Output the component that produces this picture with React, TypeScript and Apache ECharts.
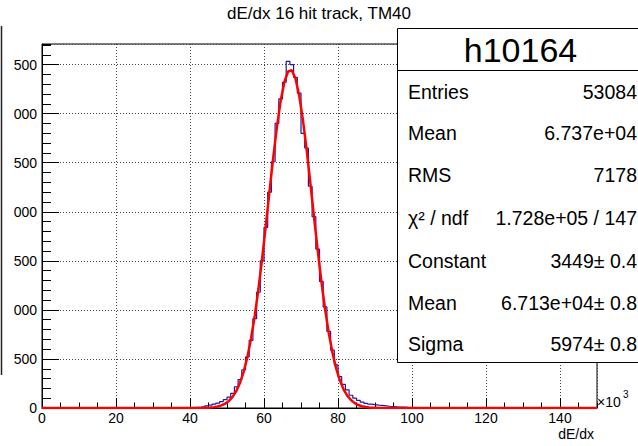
import React, { useEffect, useRef } from 'react';
import * as echarts from 'echarts';

const chartTitle = 'dE/dx 16 hit track, TM40';
const histName = 'h10164';
const xAxisTitle = 'dE/dx';
const xMin = 0;
const xMax = 150;
const yMax = 3710;

// bin counts, 150 bins of width 1 (x10^3), bins 0..149
const histCounts = [
  0, 0, 0, 0, 0, 0, 0, 0, 0, 0,
  0, 0, 0, 0, 0, 0, 0, 0, 0, 0,
  0, 0, 0, 0, 0, 0, 0, 0, 0, 0,
  0, 0, 0, 0, 0, 0, 0, 0, 0, 0,
  3, 6, 8, 14, 22, 30, 40, 50, 65, 85,
  110, 150, 215, 290, 390, 520, 690, 910, 1180, 1500,
  1840, 2200, 2510, 2900, 3150, 3320, 3533, 3500, 3370, 3210,
  2800, 2650, 2260, 1950, 1620, 1290, 1030, 780, 590, 440,
  320, 240, 185, 130, 100, 78, 60, 48, 40, 35,
  30, 26, 22, 18, 15, 12, 10, 8, 6, 5,
  4, 3, 3, 2, 1, 1, 1, 0, 1, 0,
  2, 1, 0, 0, 0, 0, 0, 0, 0, 0,
  0, 0, 0, 0, 0, 0, 0, 0, 0, 0,
  0, 0, 0, 0, 0, 0, 0, 0, 0, 0,
  0, 0, 0, 0, 0, 0, 0, 0, 0, 0,
];

// fitted gaussian curve, sampled
const fitX = [
  0, 38.5, 40.5, 41.5, 42.5, 43.5, 44.5, 45.5, 46.5, 47.5, 48.5, 49.5,
  50.5, 51.5, 52.5, 53.5, 54.5, 55.5, 56.5, 57.5, 58.5, 59.5,
  60.5, 61.5, 62.5, 63.5, 64.5, 65.5, 66.5, 67.5, 68.5, 69.5,
  70.5, 71.5, 72.5, 73.5, 74.5, 75.5, 76.5, 77.5, 78.5, 79.5,
  80.5, 81.5, 82.5, 83.5, 84.5, 85.5, 86.5, 87.5, 88.5, 89.5,
  90.5, 91.5, 92.5, 93.5, 95.5, 150,
];
const fitY = [
  0, 0, 0.2, 0.3, 0.7, 1.4, 2.6, 4.9, 8.9, 15.6, 26.6, 44,
  72, 113, 172, 255, 369, 518, 708, 941, 1215, 1526,
  1863, 2212, 2554, 2868, 3130, 3323, 3430, 3442, 3359, 3188,
  2942, 2640, 2303, 1953, 1611, 1292, 1008, 765, 564, 404,
  282, 191, 126, 81, 50, 30, 18, 10, 5.7, 3.1,
  1.6, 0.8, 0.4, 0.2, 0, 0,
];

const statsLabels = ['Entries', 'Mean', 'RMS', 'χ² / ndf', 'Constant', 'Mean', 'Sigma'];
const statsValues = ['53084', '6.737e+04', '7178', '1.728e+05 / 147', '3449± 0.4', '6.713e+04± 0.8', '5974± 0.8'];

const FONT = '"Liberation Sans", Arial, Helvetica, sans-serif';

export default function App() {
  const ref = useRef<HTMLDivElement>(null);
  useEffect(() => {
    if (!ref.current) return;
    const chart = echarts.init(ref.current, undefined, { renderer: 'svg' });

    const histData: number[][] = histCounts.map((c, i) => [i, c]);
    histData.push([xMax, histCounts[histCounts.length - 1]]);
    const fitData = fitX.map((x, i) => [x, fitY[i]]);

    const rowYs = [91.5, 133, 175, 218, 261, 302.5, 343.5];

    const txt = (text: string, x: number, y: number, size: number, align: string, extra: any = {}) => ({
      type: 'text',
      x,
      y,
      z: 110,
      style: {
        text,
        fill: '#000',
        font: `${size}px ${FONT}`,
        fontSize: size,
        fontFamily: FONT,
        align,
        textAlign: align,
        verticalAlign: 'middle',
        textVerticalAlign: 'middle',
        ...extra,
      },
    });

    const graphics: any[] = [
      txt(chartTitle, 319, 13, 17, 'center'),
      {
        type: 'line',
        z: 100,
        shape: { x1: 1.5, y1: 26, x2: 1.5, y2: 375 },
        style: { stroke: '#222', lineWidth: 1.5 },
      },
      {
        type: 'rect',
        z: 100,
        shape: { x: 397.5, y: 28.5, width: 245, height: 334 },
        style: { fill: '#fff', stroke: '#000', lineWidth: 1 },
      },
      {
        type: 'line',
        z: 101,
        shape: { x1: 397.5, y1: 70.5, x2: 640, y2: 70.5 },
        style: { stroke: '#000', lineWidth: 1 },
      },
      txt(histName, 520.5, 50, 34, 'center'),
      txt('×10', 597, 402, 14, 'left'),
      txt('3', 623, 394, 10, 'left'),
      txt(xAxisTitle, 594, 434, 14, 'right'),
    ];
    statsLabels.forEach((l, i) => {
      graphics.push(txt(l, 408, rowYs[i], 19.5, 'left'));
      graphics.push(txt(statsValues[i], 637, rowYs[i], 19.5, 'right'));
    });

    const dotted = { type: [1, 2], color: '#444', width: 1 };
    const labelStyle = { color: '#000', fontSize: 14, fontFamily: FONT };

    chart.setOption({
      animation: false,
      backgroundColor: '#fff',
      grid: {
        left: 42,
        right: 41,
        top: 44,
        bottom: 38,
        show: true,
        borderColor: '#000',
        borderWidth: 1,
        backgroundColor: 'transparent',
      },
      xAxis: [
        {
          type: 'value',
          min: xMin,
          max: xMax,
          interval: 20,
          position: 'bottom',
          axisLine: { show: true, lineStyle: { color: '#000', width: 1 } },
          axisTick: { show: true, inside: true, length: 10, lineStyle: { color: '#000' } },
          axisLabel: {
            ...labelStyle,
            margin: 3,
            showMaxLabel: false,
            formatter: (v: number) => (v % 20 === 0 ? String(v) : ''),
          },
          splitLine: { show: true, lineStyle: dotted },
        },
        {
          type: 'value',
          min: xMin,
          max: xMax,
          interval: 5,
          position: 'bottom',
          axisLine: { show: false },
          axisTick: { show: true, inside: true, length: 5.5, lineStyle: { color: '#000' } },
          axisLabel: { show: false },
          splitLine: { show: false },
        },
      ],
      yAxis: [
        {
          type: 'value',
          min: 0,
          max: yMax,
          interval: 500,
          position: 'left',
          axisLine: { show: true, lineStyle: { color: '#000', width: 1 } },
          axisTick: { show: true, inside: true, length: 17, lineStyle: { color: '#000' } },
          axisLabel: {
            ...labelStyle,
            margin: 5,
            showMaxLabel: false,
            formatter: (v: number) => (v === 0 ? '0' : v % 500 === 0 ? String(v).slice(-3) : ''),
          },
          splitLine: { show: true, lineStyle: dotted },
        },
        {
          type: 'value',
          min: 0,
          max: yMax,
          interval: 100,
          position: 'left',
          axisLine: { show: false },
          axisTick: { show: true, inside: true, length: 9, lineStyle: { color: '#000' } },
          axisLabel: { show: false },
          splitLine: { show: false },
        },
      ],
      series: [
        {
          type: 'line',
          xAxisIndex: 0,
          yAxisIndex: 0,
          data: histData,
          step: 'end',
          symbol: 'none',
          lineStyle: { color: '#1a1aa6', width: 1.2 },
          z: 2,
        },
        {
          type: 'line',
          xAxisIndex: 0,
          yAxisIndex: 0,
          data: fitData,
          symbol: 'none',
          smooth: false,
          lineStyle: { color: '#ff0000', width: 2.5 },
          z: 3,
        },
      ],
      graphic: { elements: graphics },
    });
    return () => chart.dispose();
  }, []);
  return (
    <div
      ref={ref}
      style={{ position: 'fixed', left: 0, top: 0, width: 638, height: 446, background: '#fff' }}
    />
  );
}
